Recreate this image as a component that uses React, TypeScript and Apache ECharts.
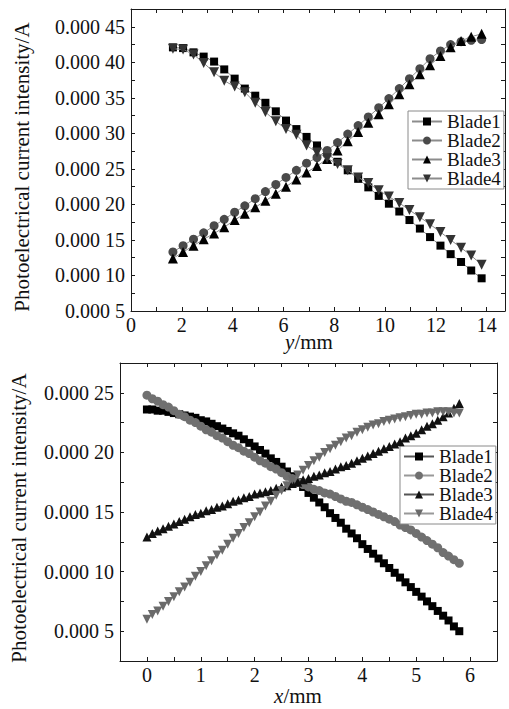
import React, { useEffect, useRef } from "react";
import * as echarts from "echarts";

const FONT = "Liberation Serif";

// ---- Top panel: position y (mm) vs current (x 1e-5 A, labelled "0.000 N")
const topPositions = [1.65, 2.05, 2.46, 2.86, 3.27, 3.67, 4.08, 4.48, 4.89, 5.29, 5.7, 6.1, 6.51, 6.91, 7.32, 7.72, 8.13, 8.53, 8.94, 9.34, 9.75, 10.15, 10.56, 10.96, 11.37, 11.77, 12.18, 12.58, 12.99, 13.39, 13.8];
const topBlade1 = [42.1, 42.0, 41.4, 40.8, 40.1, 39.0, 37.7, 36.3, 35.3, 34.3, 33.1, 31.8, 30.6, 29.5, 28.3, 27.2, 26.0, 24.8, 23.6, 22.4, 21.2, 20.1, 19.0, 17.8, 16.6, 15.4, 14.2, 13.0, 11.9, 10.7, 9.6];
const topBlade2 = [13.3, 14.2, 15.1, 16.0, 17.0, 17.9, 18.9, 19.8, 20.8, 21.8, 22.8, 23.8, 24.8, 25.8, 26.6, 27.6, 28.7, 29.9, 31.1, 32.3, 33.6, 34.9, 36.3, 37.7, 39.1, 40.5, 41.6, 42.5, 42.9, 43.1, 43.2];
const topBlade3 = [12.4, 13.3, 14.2, 15.1, 15.9, 16.8, 17.8, 18.7, 19.6, 20.5, 21.5, 22.5, 23.5, 24.5, 25.4, 26.4, 27.6, 28.9, 30.2, 31.5, 32.7, 34.1, 35.5, 36.9, 38.3, 39.6, 40.9, 42.1, 43.0, 43.6, 44.0];
const topBlade4 = [41.9, 41.8, 41.1, 39.9, 38.6, 37.4, 36.6, 35.8, 34.3, 33.0, 31.7, 30.6, 29.8, 28.3, 27.3, 26.5, 25.7, 24.8, 23.8, 23.0, 22.0, 21.1, 20.2, 19.2, 18.2, 17.2, 16.1, 15.0, 13.9, 12.8, 11.5];

// ---- Bottom panel: position x (mm) vs current
const bottomPositions = [0, 0.1, 0.2, 0.3, 0.4, 0.5, 0.6, 0.7, 0.8, 0.9, 1.0, 1.1, 1.2, 1.3, 1.4, 1.5, 1.6, 1.7, 1.8, 1.9, 2.0, 2.1, 2.2, 2.3, 2.4, 2.5, 2.6, 2.7, 2.8, 2.9, 3.0, 3.1, 3.2, 3.3, 3.4, 3.5, 3.6, 3.7, 3.8, 3.9, 4.0, 4.1, 4.2, 4.3, 4.4, 4.5, 4.6, 4.7, 4.8, 4.9, 5.0, 5.1, 5.2, 5.3, 5.4, 5.5, 5.6, 5.7, 5.8];
const bottomBlade1 = [23.6, 23.6, 23.5, 23.5, 23.4, 23.3, 23.2, 23.1, 23.0, 22.9, 22.7, 22.6, 22.4, 22.2, 22.0, 21.8, 21.6, 21.4, 21.1, 20.8, 20.5, 20.2, 19.9, 19.5, 19.2, 18.8, 18.4, 18.0, 17.5, 17.1, 16.6, 16.2, 15.8, 15.4, 14.9, 14.5, 14.1, 13.6, 13.2, 12.8, 12.3, 11.9, 11.5, 11.1, 10.7, 10.3, 9.9, 9.5, 9.1, 8.7, 8.3, 7.9, 7.5, 7.1, 6.7, 6.3, 5.9, 5.4, 5.0];
const bottomBlade2 = [24.8, 24.5, 24.3, 24.0, 23.8, 23.5, 23.2, 23.0, 22.7, 22.5, 22.2, 21.9, 21.7, 21.4, 21.2, 20.9, 20.6, 20.4, 20.1, 19.9, 19.6, 19.3, 19.1, 18.8, 18.6, 18.3, 18.0, 17.8, 17.5, 17.3, 17.1, 16.9, 16.8, 16.6, 16.5, 16.3, 16.1, 15.9, 15.8, 15.6, 15.4, 15.2, 15.0, 14.8, 14.6, 14.4, 14.2, 13.9, 13.7, 13.5, 13.2, 12.9, 12.6, 12.3, 12.0, 11.6, 11.3, 11.0, 10.7];
const bottomBlade3 = [12.9, 13.2, 13.4, 13.6, 13.8, 14.0, 14.2, 14.4, 14.6, 14.8, 14.9, 15.1, 15.2, 15.4, 15.5, 15.7, 15.9, 16.0, 16.2, 16.3, 16.5, 16.6, 16.7, 16.8, 17.0, 17.1, 17.2, 17.4, 17.5, 17.7, 17.8, 18.0, 18.1, 18.3, 18.4, 18.6, 18.8, 18.9, 19.1, 19.3, 19.5, 19.7, 19.9, 20.1, 20.3, 20.5, 20.7, 20.9, 21.2, 21.4, 21.6, 21.9, 22.2, 22.4, 22.7, 23.0, 23.3, 23.7, 24.1];
const bottomBlade4 = [6.0, 6.4, 6.7, 7.1, 7.5, 7.9, 8.3, 8.7, 9.1, 9.6, 10.0, 10.5, 10.9, 11.4, 11.8, 12.3, 12.8, 13.2, 13.7, 14.1, 14.6, 15.0, 15.5, 15.9, 16.4, 16.8, 17.2, 17.7, 18.1, 18.5, 18.9, 19.3, 19.6, 20.0, 20.3, 20.6, 20.9, 21.2, 21.4, 21.7, 21.9, 22.1, 22.3, 22.4, 22.6, 22.7, 22.8, 22.9, 23.0, 23.1, 23.2, 23.2, 23.3, 23.3, 23.4, 23.4, 23.4, 23.3, 23.3];

const seriesNames = ["Blade1", "Blade2", "Blade3", "Blade4"];
const topTicksY = [5, 47.5];
const bottomTicksY = [2.5, 27.5];

const pairs = (xs: number[], ys: number[]) => xs.map((x, i) => [x, ys[i]]);

const isMult = (v: number, m: number) => Math.abs(v / m - Math.round(v / m)) < 1e-6;

const FONT_CSS = `#blade-chart svg text, #blade-chart svg tspan { font-family: "Liberation Serif", "Times New Roman", serif !important; }`;

export default function App() {
  const ref = useRef<HTMLDivElement>(null);

  useEffect(() => {
    const chart = echarts.init(ref.current!, null, { renderer: "svg" });

    const axisLine = { show: true, onZero: false, lineStyle: { color: "#1a1a1a", width: 1 } };
    const axisTick = { show: true, inside: true, length: 4, lineStyle: { color: "#1a1a1a", width: 1 } };
    const labelStyle = { fontFamily: FONT, fontSize: 20, color: "#111" };

    const yLabel = (v: number) => (isMult(v, 5) ? `0.000 ${Math.round(v)}` : "");

    const topData = [topBlade1, topBlade2, topBlade3, topBlade4];
    const bottomData = [bottomBlade1, bottomBlade2, bottomBlade3, bottomBlade4];
    const symbols = ["rect", "circle", "triangle", "triangle"];
    const rotates = [0, 0, 0, 180];
    const topColors = ["#000000", "#4a4a4a", "#000000", "#333333"];
    const topSizes = [8, 9, 10, 10];
    const bottomColors = ["#000000", "#707070", "#111111", "#6a6a6a"];
    const bottomSizes = [8, 9, 9, 9];

    const series: any[] = [];
    topData.forEach((ys, i) => {
      series.push({
        type: "line",
        name: seriesNames[i],
        xAxisIndex: 0,
        yAxisIndex: 0,
        data: pairs(topPositions, ys),
        symbol: symbols[i],
        symbolRotate: rotates[i],
        symbolSize: topSizes[i],
        showAllSymbol: true,
        itemStyle: { color: topColors[i] },
        lineStyle: { color: "#8c8c8c", width: 1 },
        z: 2 + i,
      });
    });
    bottomData.forEach((ys, i) => {
      series.push({
        type: "line",
        name: "b-" + seriesNames[i],
        xAxisIndex: 2,
        yAxisIndex: 2,
        data: pairs(bottomPositions, ys),
        symbol: symbols[i],
        symbolRotate: rotates[i],
        symbolSize: bottomSizes[i],
        showAllSymbol: true,
        itemStyle: { color: bottomColors[i] },
        lineStyle: { color: i % 2 === 0 ? "#555" : "#999", width: 1 },
        z: 2 + i,
      });
    });

    const legendCommon = {
      orient: "vertical",
      selectedMode: false,
      itemGap: 0,
      itemWidth: 30,
      itemHeight: 10,
      borderColor: "#8a8a8a",
      borderWidth: 1,
      backgroundColor: "#fff",
      textStyle: { fontFamily: FONT, fontSize: 19, color: "#111", lineHeight: 18 },
    };

    chart.setOption({
      animation: false,
      backgroundColor: "#fff",
      textStyle: { fontFamily: FONT },
      grid: [
        { left: 131, top: 9, width: 374, height: 302 },
        { left: 120, top: 363, width: 377, height: 298 },
      ],
      xAxis: [
        {
          type: "value", gridIndex: 0, position: "bottom", min: 0, max: 14.72, interval: 1,
          axisLine, axisTick, splitLine: { show: false },
          axisLabel: { ...labelStyle, margin: 4, formatter: (v: number) => (isMult(v, 2) ? String(Math.round(v)) : "") },
        },
        {
          type: "value", gridIndex: 0, position: "top", min: 0, max: 14.72, interval: 1,
          axisLine, axisTick, splitLine: { show: false }, axisLabel: { show: false },
        },
        {
          type: "value", gridIndex: 1, position: "bottom", min: -0.5, max: 6.5, interval: 0.5,
          axisLine, axisTick, splitLine: { show: false },
          axisLabel: { ...labelStyle, margin: 4, formatter: (v: number) => (isMult(v, 1) ? String(Math.round(v)) : "") },
        },
        {
          type: "value", gridIndex: 1, position: "top", min: -0.5, max: 6.5, interval: 0.5,
          axisLine, axisTick, splitLine: { show: false }, axisLabel: { show: false },
        },
      ],
      yAxis: [
        {
          type: "value", gridIndex: 0, position: "left", min: topTicksY[0], max: topTicksY[1], interval: 2.5,
          axisLine, axisTick, splitLine: { show: false },
          axisLabel: { ...labelStyle, margin: 6, formatter: yLabel },
        },
        {
          type: "value", gridIndex: 0, position: "right", min: topTicksY[0], max: topTicksY[1], interval: 2.5,
          axisLine, axisTick, splitLine: { show: false }, axisLabel: { show: false },
        },
        {
          type: "value", gridIndex: 1, position: "left", min: bottomTicksY[0], max: bottomTicksY[1], interval: 2.5,
          axisLine, axisTick, splitLine: { show: false },
          axisLabel: { ...labelStyle, margin: 6, formatter: yLabel },
        },
        {
          type: "value", gridIndex: 1, position: "right", min: bottomTicksY[0], max: bottomTicksY[1], interval: 2.5,
          axisLine, axisTick, splitLine: { show: false }, axisLabel: { show: false },
        },
      ],
      legend: [
        { ...legendCommon, left: 408, top: 111, padding: [1, 3, 1, 3], data: seriesNames },
        {
          ...legendCommon,
          left: 400, top: 446, padding: [1, 3, 1, 3],
          textStyle: { ...legendCommon.textStyle, lineHeight: 19 },
          data: seriesNames.map((n) => "b-" + n),
          formatter: (n: string) => n.replace(/^b-/, ""),
        },
      ],
      graphic: [
        {
          type: "text", x: 22, y: 167, rotation: Math.PI / 2,
          style: { text: "Photoelectrical current intensity/A", fontFamily: FONT, fontSize: 21, fill: "#111", align: "center", verticalAlign: "middle" },
        },
        {
          type: "text", x: 19, y: 518, rotation: Math.PI / 2,
          style: { text: "Photoelectrical current intensity/A", fontFamily: FONT, fontSize: 21, fill: "#111", align: "center", verticalAlign: "middle" },
        },
        {
          type: "text", x: 309, y: 342,
          style: {
            text: "{i|y}/mm", fontFamily: FONT, fontSize: 21, fill: "#111", align: "center", verticalAlign: "middle",
            rich: { i: { fontStyle: "italic", fontFamily: FONT, fontSize: 21, fill: "#111" } },
          },
        },
        {
          type: "text", x: 298, y: 696,
          style: {
            text: "{i|x}/mm", fontFamily: FONT, fontSize: 21, fill: "#111", align: "center", verticalAlign: "middle",
            rich: { i: { fontStyle: "italic", fontFamily: FONT, fontSize: 21, fill: "#111" } },
          },
        },
      ],
      series,
    });

    return () => chart.dispose();
  }, []);

  return (
    <>
      <style>{FONT_CSS}</style>
      <div id="blade-chart" ref={ref} style={{ position: "absolute", left: 0, top: 0, width: 509, height: 709 }} />
    </>
  );
}
